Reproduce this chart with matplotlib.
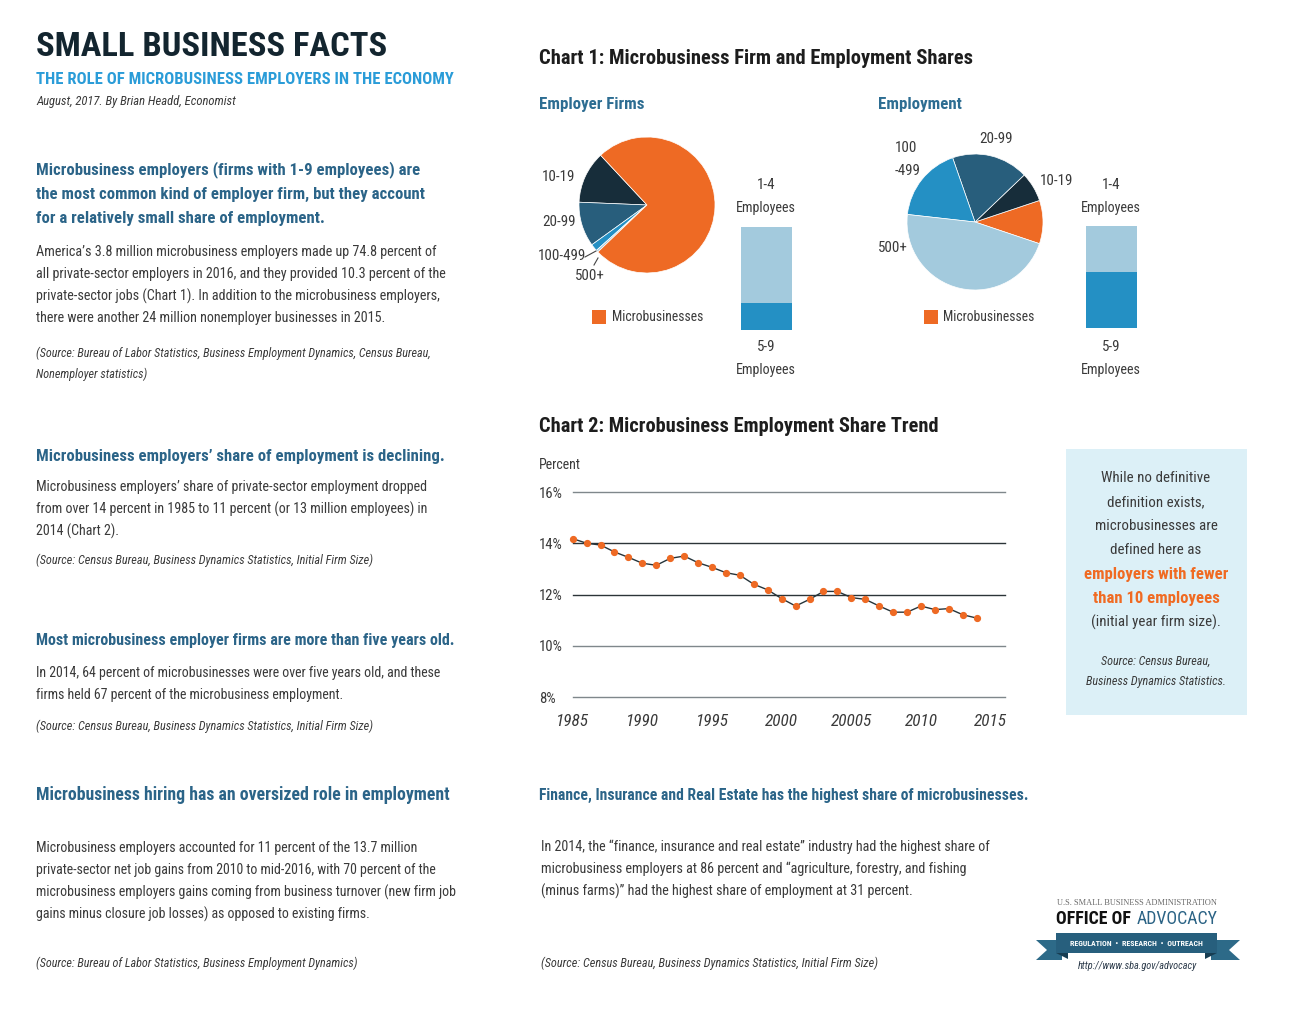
import os
import matplotlib
matplotlib.use('Agg')
import matplotlib.pyplot as plt
from matplotlib import font_manager as fm
from matplotlib.patches import Rectangle, Polygon
from matplotlib.lines import Line2D

W, H = 1306, 1013

# ---------------- data ----------------
firm_labels = ['10-19', '20-99', '100-499', '500+', 'Microbusinesses']
firm_shares = [12.4, 10.6, 1.7, 0.5, 74.8]
emp_labels = ['Microbusinesses', '10-19', '20-99', '100-499', '500+']
emp_shares = [10.3, 7.0, 18.2, 17.9, 46.6]
micro_split_labels = ['5-9', '1-4']
firm_micro_split = [26.0, 74.0]
emp_micro_split = [55.0, 45.0]
years = list(range(1985, 2015))
micro_emp_share = [14.18, 14.00, 13.93, 13.66, 13.45, 13.22, 13.14, 13.41, 13.50, 13.24,
                   13.06, 12.85, 12.75, 12.40, 12.18, 11.84, 11.55, 11.81, 12.12, 12.12,
                   11.88, 11.81, 11.55, 11.31, 11.31, 11.55, 11.41, 11.45, 11.21, 11.08]
y_ticks = [8, 10, 12, 14, 16]
y_tick_labels = ['8%', '10%', '12%', '14%', '16%']
x_ticks = [1985, 1990, 1995, 2000, 2005, 2010, 2015]
x_tick_labels = ['1985', '1990', '1995', '2000', '20005', '2010', '2015']

# ---------------- style ----------------
ORANGE = '#EE6A24'
size_colors = {'Microbusinesses': ORANGE, '10-19': '#172D3A', '20-99': '#285E7C',
               '100-499': '#2490C4', '500+': '#A3CADD'}
split_colors = {'5-9': '#2490C4', '1-4': '#A3CADD'}
TITLE = '#13252f'
SUB = '#2a9cd8'
HEAD = '#2b6488'
BODY = '#3a3a3a'
DARK = '#1d1d1d'

# ---------------- fonts ----------------
def _w(f):
    w = f.weight
    if isinstance(w, str):
        m = {'thin': 100, 'extralight': 200, 'ultralight': 200, 'light': 300, 'normal': 400,
             'regular': 400, 'book': 400, 'medium': 500, 'semibold': 600, 'demibold': 600,
             'demi': 600, 'bold': 700, 'extrabold': 800, 'ultrabold': 800, 'heavy': 900,
             'black': 900}
        return m.get(w.lower().replace(' ', ''), 400)
    return int(w)

FAMS = ['robotocondensed', 'liberationsansnarrow', 'notosanscondensed',
        'opensanscondensed', 'dejavusanscondensed']

def pick_font(weight, italic):
    best, bestkey = None, None
    for f in fm.fontManager.ttflist:
        fn = os.path.basename(f.fname).lower().replace('-', '').replace('_', '').replace(' ', '')
        nm = f.name.lower().replace(' ', '')
        rank = None
        for i, fam in enumerate(FAMS):
            if fn.startswith(fam) or nm == fam:
                rank = i
                break
        if rank is None:
            continue
        is_it = f.style in ('italic', 'oblique') or 'italic' in fn or 'oblique' in fn
        key = (is_it != italic, rank, abs(_w(f) - weight))
        if bestkey is None or key < bestkey:
            best, bestkey = f.fname, key
    return best

FONTS = {'reg': (pick_font(400, False), 'normal', 'normal'),
         'bold': (pick_font(700, False), 'bold', 'normal'),
         'it': (pick_font(400, True), 'normal', 'italic')}

def fp(kind, size):
    if kind == 'serif':
        return fm.FontProperties(family=['Liberation Serif', 'DejaVu Serif'], size=size)
    path, wt, st = FONTS[kind]
    if path:
        return fm.FontProperties(fname=path, size=size)
    return fm.FontProperties(family=['Liberation Sans', 'DejaVu Sans'], weight=wt, style=st, size=size)

fig = plt.figure(figsize=(W / 100, H / 100), dpi=100)
fig.patch.set_facecolor('white')
R = fig.canvas.get_renderer()

def put(x, y, s, size, kind='reg', color=BODY, ha='left', width=None, lo=0.5, hi=1.7):
    t = fig.text(x / W, 1 - y / H, s, fontproperties=fp(kind, size), color=color,
                 ha=ha, va='center')
    if width:
        w = t.get_window_extent(R).width
        sc = min(max(width / w, lo), hi)
        t.set_fontsize(size * sc)
    return t

def para(x, ys, lines, size, kind, color, idx, width, ha='left'):
    t0 = put(x, ys[idx], lines[idx], size, kind, color, ha, width)
    s = t0.get_fontsize()
    for i, (yy, ln) in enumerate(zip(ys, lines)):
        if i != idx:
            put(x, yy, ln, s, kind, color, ha)
    return s

def px_rect(x0, y0, x1, y1, color, z=1):
    fig.add_artist(Rectangle((x0 / W, 1 - y1 / H), (x1 - x0) / W, (y1 - y0) / H,
                             transform=fig.transFigure, facecolor=color, edgecolor='none', zorder=z))

def px_poly(pts, color, z=1):
    fig.add_artist(Polygon([(x / W, 1 - y / H) for x, y in pts], closed=True,
                           transform=fig.transFigure, facecolor=color, edgecolor='none', zorder=z))

def px_line(x0, y0, x1, y1, color='#444444', lw=0.8):
    fig.add_artist(Line2D([x0 / W, x1 / W], [1 - y0 / H, 1 - y1 / H], transform=fig.transFigure,
                          color=color, lw=lw))

# ---------------- left column ----------------
put(36, 47, 'SMALL BUSINESS FACTS', 30, 'bold', TITLE, width=350)
put(36, 79, 'THE ROLE OF MICROBUSINESS EMPLOYERS IN THE ECONOMY', 13, 'bold', SUB, width=415)
put(36, 102, 'August, 2017. By Brian Headd, Economist', 10, 'it', BODY, width=200)

para(36, [170, 194, 218],
     ['Microbusiness employers (firms with 1-9 employees) are',
      'the most common kind of employer firm, but they account',
      'for a relatively small share of employment.'], 13, 'bold', HEAD, 1, 387)
para(36, [252, 274, 296, 318],
     ['America\u2019s 3.8 million microbusiness employers made up 74.8 percent of',
      'all private-sector employers in 2016, and they provided 10.3 percent of the',
      'private-sector jobs (Chart 1). In addition to the microbusiness employers,',
      'there were another 24 million nonemployer businesses in 2015.'], 11, 'reg', BODY, 1, 411)
para(36, [353, 374],
     ['(Source: Bureau of Labor Statistics, Business Employment Dynamics, Census Bureau,',
      'Nonemployer statistics)'], 9.5, 'it', BODY, 0, 396)

put(36, 457, 'Microbusiness employers\u2019 share of employment is declining.', 13, 'bold', HEAD, width=405)
para(36, [487, 509, 531],
     ['Microbusiness employers\u2019 share of private-sector employment dropped',
      'from over 14 percent in 1985 to 11 percent (or 13 million employees) in',
      '2014 (Chart 2).'], 11, 'reg', BODY, 1, 391)
put(36, 560, '(Source: Census Bureau, Business Dynamics Statistics, Initial Firm Size)', 9.5, 'it', BODY, width=337)

put(36, 641, 'Most microbusiness employer firms are more than five years old.', 13, 'bold', HEAD, width=414)
para(36, [673, 695],
     ['In 2014, 64 percent of microbusinesses were over five years old, and these',
      'firms held 67 percent of the microbusiness employment.'], 11, 'reg', BODY, 0, 408)
put(36, 726, '(Source: Census Bureau, Business Dynamics Statistics, Initial Firm Size)', 9.5, 'it', BODY, width=337)

put(36, 795, 'Microbusiness hiring has an oversized role in employment', 13, 'bold', HEAD, width=412)
para(36, [848, 870, 892, 914],
     ['Microbusiness employers accounted for 11 percent of the 13.7 million',
      'private-sector net job gains from 2010 to mid-2016, with 70 percent of the',
      'microbusiness employers gains coming from business turnover (new firm job',
      'gains minus closure job losses) as opposed to existing firms.'], 11, 'reg', BODY, 2, 422)
put(36, 963, '(Source: Bureau of Labor Statistics, Business Employment Dynamics)', 9.5, 'it', BODY, width=322)

# ---------------- chart 1 ----------------
put(539, 58, 'Chart 1: Microbusiness Firm and Employment Shares', 15, 'bold', DARK, width=435)
put(539, 104, 'Employer Firms', 13, 'bold', '#2d6d92', width=104)
put(878, 104, 'Employment', 13, 'bold', '#2d6d92', width=83)

def pie_axes(cx, cy, r=68):
    return fig.add_axes([(cx - r) / W, 1 - (cy + r) / H, 2 * r / W, 2 * r / H])

ax1 = pie_axes(647, 205)
ax1.pie(firm_shares, colors=[size_colors[l] for l in firm_labels], startangle=133,
        counterclock=True, wedgeprops=dict(edgecolor='white', linewidth=0.5))
ax1.set_xlim(-1, 1); ax1.set_ylim(-1, 1); ax1.set_aspect('equal')

ax2 = pie_axes(975, 222)
ax2.pie(emp_shares, colors=[size_colors[l] for l in emp_labels], startangle=-18.6,
        counterclock=True, wedgeprops=dict(edgecolor='white', linewidth=0.5))
ax2.set_xlim(-1, 1); ax2.set_ylim(-1, 1); ax2.set_aspect('equal')

t = put(542, 177, '10-19', 12, 'reg', BODY, width=33)
LS = t.get_fontsize()
put(542, 222, '20-99', LS, 'reg', BODY)
put(538, 256, '100-499', LS, 'reg', BODY)
put(575, 276, '500+', LS, 'reg', BODY)
px_line(585, 257, 596, 251)
px_line(594, 265, 598, 258)

put(895, 148, '100', LS, 'reg', BODY)
put(895, 171, '-499', LS, 'reg', BODY)
put(979, 139, '20-99', LS, 'reg', BODY)
put(1040, 181, '10-19', LS, 'reg', BODY)
put(878, 248, '500+', LS, 'reg', BODY)

for sx, tx in [(592, 612), (924, 943)]:
    px_rect(sx, 310, sx + 14, 324, ORANGE)
    put(tx, 317, 'Microbusinesses', LS, 'reg', BODY, width=92)

def split_bar(x0, x1, y0, y1, vals):
    ax = fig.add_axes([x0 / W, 1 - y1 / H, (x1 - x0) / W, (y1 - y0) / H])
    bottom = 0
    for lab, v in zip(micro_split_labels, vals):
        ax.bar([0], [v], bottom=bottom, width=1.0, color=split_colors[lab])
        bottom += v
    ax.set_xlim(-0.5, 0.5); ax.set_ylim(0, sum(vals)); ax.axis('off')

split_bar(741, 792, 227, 330, firm_micro_split)
split_bar(1086, 1137, 226, 328, emp_micro_split)

for cx in (766, 1111):
    put(cx, 185, '1-4', LS, 'reg', BODY, ha='center')
    put(cx, 208, 'Employees', LS, 'reg', BODY, ha='center', width=60)
    put(cx, 347, '5-9', LS, 'reg', BODY, ha='center')
    put(cx, 370, 'Employees', LS, 'reg', BODY, ha='center', width=60)

# ---------------- chart 2 ----------------
put(539, 427, 'Chart 2: Microbusiness Employment Share Trend', 15, 'bold', DARK, width=400)
put(539, 465, 'Percent', 11, 'reg', BODY, width=42)

axl = fig.add_axes([572.7 / W, 1 - 697 / H, (1005 - 572.7) / W, (697 - 492) / H])
axl.set_xlim(1985, 2016.03)
axl.set_ylim(8, 16)
grid_col = {8: '#7f878b', 10: '#7f878b', 12: '#2c3438', 14: '#2c3438', 16: '#7f878b'}
for v in y_ticks:
    axl.axhline(v, color=grid_col[v], lw=1.0, clip_on=False, zorder=1)
axl.plot(years, micro_emp_share, color='#26343a', lw=1.0, marker='o', ms=4.2,
         mfc=ORANGE, mec=ORANGE, zorder=3, clip_on=False)
for s in axl.spines.values():
    s.set_visible(False)
axl.set_yticks(y_ticks, y_tick_labels)
axl.set_xticks(x_ticks, x_tick_labels)
tmp = put(0, -100, '16%', 11, 'reg', BODY, width=24)
ysz = tmp.get_fontsize(); tmp.remove()
tmp = put(0, -100, '1985', 16, 'it', BODY, width=33)
xsz = tmp.get_fontsize(); tmp.remove()
axl.tick_params(axis='y', length=0, pad=(572.7 - 539) * 0.72)
axl.tick_params(axis='x', length=0, pad=24 * 0.72)
for lab in axl.get_yticklabels():
    lab.set_fontproperties(fp('reg', ysz)); lab.set_color(BODY); lab.set_ha('left')
for lab in axl.get_xticklabels():
    lab.set_fontproperties(fp('it', xsz)); lab.set_color(BODY); lab.set_va('center')

# sidebar
px_rect(1066, 449, 1247, 715, '#dcf0f7', z=0)
sb = para(1156, [478, 502, 526, 550],
          ['While no definitive', 'definition exists,', 'microbusinesses are', 'defined here as'],
          12, 'reg', BODY, 2, 122, ha='center')
para(1156, [574, 598], ['employers with fewer', 'than 10 employees'], 12, 'bold', '#F06A22', 0, 144, ha='center')
put(1156, 622, '(initial year firm size).', sb, 'reg', BODY, ha='center')
para(1156, [661, 681], ['Source: Census Bureau,', 'Business Dynamics Statistics.'], 10, 'it', BODY, 1, 140, ha='center')

# ---------------- bottom middle ----------------
put(539, 795, 'Finance, Insurance and Real Estate has the highest share of microbusinesses.', 13, 'bold', HEAD, width=484)
para(541, [847, 869, 891],
     ['In 2014, the \u201cfinance, insurance and real estate\u201d industry had the highest share of',
      'microbusiness employers at 86 percent and \u201cagriculture, forestry, and fishing',
      '(minus farms)\u201d had the highest share of employment at 31 percent.'], 11, 'reg', BODY, 0, 452)
put(541, 963, '(Source: Census Bureau, Business Dynamics Statistics, Initial Firm Size)', 9.5, 'it', BODY, width=337)

# ---------------- logo ----------------
put(1136.5, 903, 'U.S. SMALL BUSINESS ADMINISTRATION', 7, 'serif', '#6a6a6a', ha='center', width=161)
t1 = put(1056, 919, 'OFFICE OF', 18, 'bold', '#111111')
t2 = put(1056, 919, 'ADVOCACY', 18, 'reg', '#2b6385')
w1 = t1.get_window_extent(R).width
w2 = t2.get_window_extent(R).width
gap = 0.3 * 18 * 100 / 72
sc = 161 / (w1 + w2 + gap)
t1.set_fontsize(18 * sc); t2.set_fontsize(18 * sc)
t2.set_x((1056 + (w1 + gap) * sc) / W)

px_poly([(1036, 940), (1062, 940), (1062, 960), (1036, 960), (1047, 950)], '#2d6a88', z=1)
px_poly([(1240, 940), (1211, 940), (1211, 960), (1240, 960), (1229, 950)], '#2d6a88', z=1)
px_poly([(1056, 952.7), (1068, 952.7), (1068, 959)], '#173d52', z=2)
px_poly([(1217, 952.7), (1205, 952.7), (1205, 959)], '#173d52', z=2)
px_rect(1056, 932.7, 1217, 952.7, '#275f7d', z=3)
tt = put(1136.5, 943, 'REGULATION  \u2022  RESEARCH  \u2022  OUTREACH', 6.5, 'bold', 'white', ha='center', width=133)
tt.set_zorder(5)
put(1137, 966, 'http://www.sba.gov/advocacy', 9, 'it', '#2b3a4a', ha='center', width=120)

fig.savefig('out.png', dpi=100, facecolor='white')
